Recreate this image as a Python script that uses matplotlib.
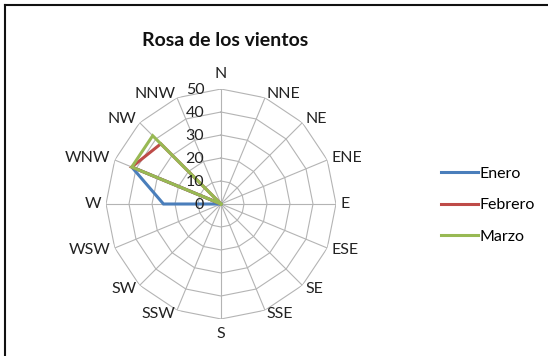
import numpy as np
import matplotlib
matplotlib.use('Agg')
import matplotlib.pyplot as plt
from matplotlib.lines import Line2D

plt.rcParams['font.family'] = ['Lato', 'DejaVu Sans']

directions = ['N', 'NNE', 'NE', 'ENE', 'E', 'ESE', 'SE', 'SSE',
              'S', 'SSW', 'SW', 'WSW', 'W', 'WNW', 'NW', 'NNW']
enero = [0, 0, 0, 0, 0, 0, 0, 0, 0, 0, 0, 0, 25, 42, 0, 0]
febrero = [0, 0, 0, 0, 0, 0, 0, 0, 0, 0, 0, 0, 0, 42, 37, 0]
marzo = [0, 0, 0, 0, 0, 0, 0, 0, 0, 0, 0, 0, 0, 42, 42, 0]
ticks = [0, 10, 20, 30, 40, 50]

series = [('Enero', enero, '#4a7ebb'),
          ('Febrero', febrero, '#be4b48'),
          ('Marzo', marzo, '#98b954')]

fig = plt.figure(figsize=(5.48, 3.56), dpi=100)
ax = fig.add_axes([106 / 548, 37 / 356, 230 / 548, 230 / 356], projection='polar')
ax.set_theta_zero_location('N')
ax.set_theta_direction(-1)
ax.set_ylim(0, 50)
ax.grid(False)
ax.spines['polar'].set_visible(False)
ax.set_xticks([])
ax.set_yticks([])

angles = np.linspace(0, 2 * np.pi, len(directions), endpoint=False)
closed = np.append(angles, angles[0])

# polygonal rings and spokes
for t in ticks[1:]:
    ax.plot(closed, [t] * len(closed), color='#b4b4b4', lw=0.8, zorder=1)
for a in angles:
    ax.plot([a, a], [0, 50], color='#b4b4b4', lw=0.8, zorder=1)

for name, vals, col in series:
    v = np.append(vals, vals[0])
    ax.plot(closed, v, color=col, lw=2.2, label=name, zorder=3,
            solid_joinstyle='miter')

# direction labels sit just outside the outer ring
for a, d in zip(angles, directions):
    s = np.sin(a)
    if abs(s) < 0.1:
        ax.text(a, 56.5, d, ha='center', va='center', fontsize=11.5, color='#222222')
    else:
        ax.text(a, 52, d, ha='left' if s > 0 else 'right', va='center',
                fontsize=11.5, color='#222222')

for t in ticks:
    ax.annotate(str(t), xy=(0, t), xytext=(-12, -1), textcoords='offset points',
                ha='right', va='center', fontsize=11.5, color='#222222')

fig.text(225 / 548, 1 - 40 / 356, 'Rosa de los vientos', ha='center', va='center',
         fontsize=14, fontweight='bold', color='#111111')

handles = [Line2D([0], [0], color=c, lw=2.2) for _, _, c in series]
fig.legend(handles, [s[0] for s in series], loc='center left',
           bbox_to_anchor=(427 / 548, 1 - 205 / 356), frameon=False,
           fontsize=11.5, handlelength=2.3, handletextpad=0.1, labelspacing=1.08)

# frame of the chart area
fig.add_artist(Line2D([5 / 548, 1], [1 - 5 / 356, 1 - 5 / 356], color='#111111', lw=1.5))
fig.add_artist(Line2D([5 / 548, 5 / 548], [0, 1 - 5 / 356], color='#111111', lw=1.5))

fig.savefig('out.png', dpi=100)
